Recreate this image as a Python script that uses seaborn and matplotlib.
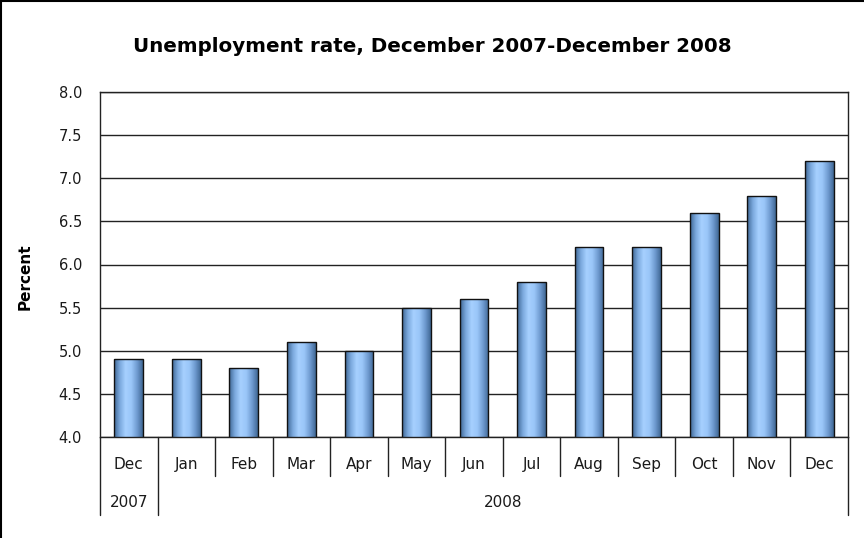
import numpy as np
import pandas as pd
import matplotlib
matplotlib.use('Agg')
import matplotlib.pyplot as plt
import matplotlib.transforms as mtransforms
from matplotlib.colors import LinearSegmentedColormap
from matplotlib.lines import Line2D
import seaborn as sns

months = ['Dec', 'Jan', 'Feb', 'Mar', 'Apr', 'May', 'Jun', 'Jul',
          'Aug', 'Sep', 'Oct', 'Nov', 'Dec']
years = ['2007'] + ['2008'] * 12
rates = [4.9, 4.9, 4.8, 5.1, 5.0, 5.5, 5.6, 5.8, 6.2, 6.2, 6.6, 6.8, 7.2]
y_ticks = [4.0, 4.5, 5.0, 5.5, 6.0, 6.5, 7.0, 7.5, 8.0]

df = pd.DataFrame({'pos': [str(i) for i in range(len(months))],
                   'month': months, 'year': years, 'rate': rates})

sns.set_theme(style="white")
plt.rcParams['font.family'] = ['DejaVu Sans']

fig = plt.figure(figsize=(8.64, 5.38), dpi=100)
ax = fig.add_axes([100 / 864, 1 - 437 / 538, 748 / 864, 345 / 538])

sns.barplot(data=df, x='pos', y='rate', ax=ax, width=0.5,
            color='#8fbcef', edgecolor='#111111', linewidth=1.0)

ymin, ymax = 4.0, 8.0
ax.set_ylim(ymin, ymax)
ax.set_xlim(-0.5, len(months) - 0.5)
ax.set_yticks(y_ticks)
ax.set_yticklabels([f'{t:.1f}' for t in y_ticks], fontsize=10.5, color='#1a1a1a')
ax.tick_params(axis='y', length=0, pad=13)
ax.set_xticks([])
ax.set_xlabel('')
ax.set_ylabel('')
ax.yaxis.grid(True, color='#222222', linewidth=1.0)
ax.set_axisbelow(True)
for sp in ax.spines.values():
    sp.set_color('#222222')
    sp.set_linewidth(1.0)

# cylinder-like shading for each bar
cmap = LinearSegmentedColormap.from_list(
    'cyl', ['#3d6592', '#7aa8dc', '#a6d0ff', '#9ac6f8', '#6f9bd0', '#3f6794'])
grad = np.linspace(0, 1, 256).reshape(1, -1)
for patch in ax.patches:
    x0, w = patch.get_x(), patch.get_width()
    top = patch.get_y() + patch.get_height()
    im = ax.imshow(grad, cmap=cmap, aspect='auto',
                   extent=[x0, x0 + w, ymin, top], zorder=patch.get_zorder())
    im.set_clip_path(patch)
    patch.set_facecolor('none')
    patch.set_zorder(patch.get_zorder() + 0.1)
ax.set_xlim(-0.5, len(months) - 0.5)
ax.set_ylim(ymin, ymax)

# category axis labels and separators
trans = mtransforms.blended_transform_factory(ax.transData, ax.transAxes)
for i, m in enumerate(months):
    ax.text(i, -0.081, m, transform=trans, ha='center', va='center',
            fontsize=11, color='#1a1a1a')
for i in range(len(months) + 1):
    b = i - 0.5
    bottom = -0.226 if i in (0, 1, len(months)) else -0.113
    ax.add_line(Line2D([b, b], [0, bottom], transform=trans, color='#222222',
                       linewidth=1.0, clip_on=False))
ax.text(0, -0.191, '2007', transform=trans, ha='center', va='center',
        fontsize=11, color='#1a1a1a')
ax.text((1 + len(months) - 1) / 2, -0.191, '2008', transform=trans,
        ha='center', va='center', fontsize=11, color='#1a1a1a')

fig.text(25 / 864, 1 - 277 / 538, 'Percent', rotation=90, ha='center',
         va='center', fontsize=11, fontweight='bold', color='black')
fig.text(432 / 864, 1 - 47 / 538, 'Unemployment rate, December 2007-December 2008',
         ha='center', va='center', fontsize=14.3, fontweight='bold', color='black')

# frame lines on the top and left of the picture
fig.add_artist(Line2D([0.0008, 0.0008], [0, 1], transform=fig.transFigure,
                      color='black', linewidth=1.5))
fig.add_artist(Line2D([0, 1], [0.9985, 0.9985], transform=fig.transFigure,
                      color='black', linewidth=1.5))

fig.savefig('out.png', dpi=100)
